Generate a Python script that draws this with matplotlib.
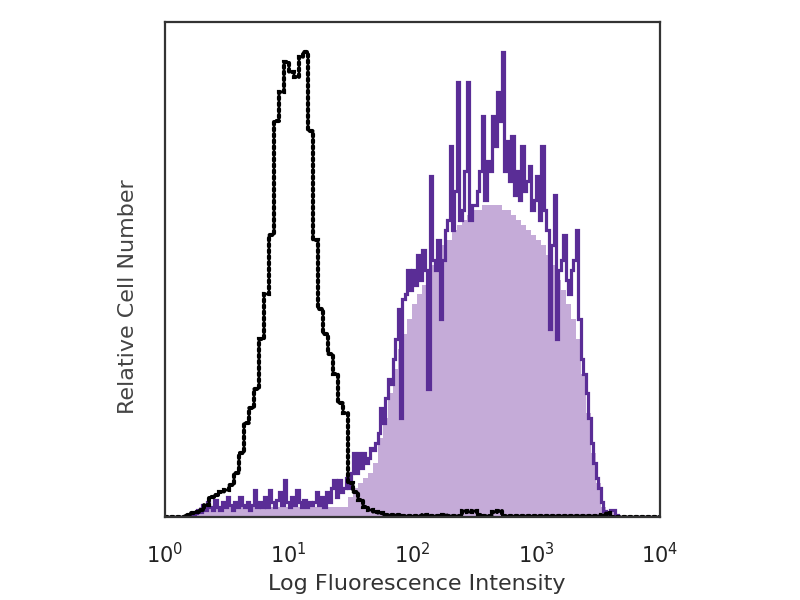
import numpy as np
import matplotlib
matplotlib.use('Agg')
import matplotlib.pyplot as plt

# isotype control (black dotted), 100 log bins 10^0..10^4, % of axis height
isotype = [0, 0, 0, 0, 0.5, 0.8, 1.0, 1.5, 2.5, 4,
           4.5, 5, 5.5, 6.5, 9, 13, 19, 22, 26, 36,
           45, 57, 80, 86, 92, 90, 89, 93, 94, 78,
           56, 42, 37, 33, 29, 23, 21, 7, 5, 3.5,
           2, 1.5, 1, 0.8, 0.5, 0.5, 0.4, 0.4, 0.3, 0.3,
           0.3, 0.3, 0.4, 0.3, 0.3, 0.3, 0.4, 0.3, 0.3, 0.3,
           1.2, 1.0, 1.3, 0.4, 0.3, 0.3, 1.0, 1.2, 0.3, 0.3,
           0.3, 0.3, 0.3, 0.3, 0.3, 0.3, 0.3, 0.3, 0.3, 0.3,
           0.3, 0.3, 0.3, 0.3, 0.3, 0.3, 0.3, 0.3, 0.5, 0.8,
           0, 0, 0, 0, 0, 0, 0, 0, 0, 0]

# stained sample, raw outline, 200 log bins
stained = [0, 0, 0, 0, 0, 0, 0, 0, 0, 0,
           0, 0.3, 0.8, 1.5, 1, 2.5, 1.5, 3, 2, 1.5,
           3.5, 2, 1.5, 3, 2, 4, 2.5, 1.5, 3, 2,
           4, 2.5, 2, 3, 1.5, 2.5, 5.5, 2, 3, 2,
           4, 2, 5.5, 3, 2, 3.5, 5, 2.5, 7.5, 3,
           2, 4, 2.5, 5.5, 3, 2, 3.5, 2, 3, 2.5,
           3, 5, 2.5, 4, 2, 5, 3, 6, 7.5, 4,
           7.5, 5, 6, 8, 6, 9, 13, 9, 13, 10,
           13, 11, 12, 14, 13.5, 15, 17, 22, 19, 24,
           28, 27, 32, 36, 42, 20, 44, 45, 50, 46,
           50, 47, 53, 48, 54, 50, 26, 69, 52, 50,
           56, 40, 52, 58, 60, 75, 58, 66, 88, 60,
           62, 70, 88, 60, 63, 63, 66, 70, 81, 64,
           72, 70, 81, 75, 86, 80, 94, 70, 76, 68,
           77, 65, 70, 64, 75, 66, 68, 71, 62, 64,
           69, 60, 75, 62, 58, 38, 55, 65, 36, 50,
           52, 57, 48, 45, 50, 52, 58, 40, 32, 29,
           25, 20, 15, 11, 8, 6, 3, 1.2, 0.5, 0.5,
           1.5, 1.5, 0.5, 0, 0, 0, 0, 0, 0, 0,
           0, 0, 0, 0, 0, 0, 0, 0, 0, 0]

# stained sample, filled body, 100 log bins
stained_fill = [0, 0, 0, 0, 0, 0, 1.5, 2, 2, 2,
                2, 2, 2, 2, 2, 2, 2, 2, 2, 2,
                2, 2, 2, 2, 2, 2, 2, 2, 2, 2,
                2, 2, 2, 2, 2, 2, 2, 4, 6, 7,
                8, 9, 11, 16, 20, 25, 30, 34, 37, 40,
                43, 45, 47, 49, 51, 53, 55, 56, 58, 59,
                60, 61, 62, 62, 63, 63, 63, 63, 62, 62,
                61, 60, 59, 58, 57, 56, 55, 53, 51, 48,
                46, 43, 40, 36, 29, 21, 13, 7, 2, 0.5,
                1, 0, 0, 0, 0, 0, 0, 0, 0, 0]

tick_vals = [1, 10, 100, 1000, 10000]
tick_labels = ['$10^0$', '$10^1$', '$10^2$', '$10^3$', '$10^4$']

edges_iso = np.logspace(0, 4, len(isotype) + 1)
edges_line = np.logspace(0, 4, len(stained) + 1)
edges_fill = np.logspace(0, 4, len(stained_fill) + 1)

fig = plt.figure(figsize=(8, 6), dpi=100)
ax = fig.add_axes([0.206, 0.138, 0.619, 0.825])

ax.stairs(stained_fill, edges_fill, fill=True, color='#c5abd8', lw=0)
ax.stairs(stained, edges_line, color='#5a2d96', lw=2.3)
ax.stairs(isotype, edges_iso, color='black', lw=3.0, linestyle=(0, (0.6, 0.85)),
          capstyle='round')

ax.set_xscale('log')
ax.set_xlim(1, 10000)
ax.set_ylim(0, 100)
ax.set_xticks(tick_vals)
ax.set_xticklabels(tick_labels, fontsize=15, color='#222222')
ax.minorticks_off()
ax.tick_params(axis='x', length=0, pad=18)
ax.set_yticks([])
for s in ax.spines.values():
    s.set_linewidth(1.6)
    s.set_color('#333333')

ax.set_xlabel('Log Fluorescence Intensity', fontsize=16, color='#333333')
ax.xaxis.set_label_coords(0.509, -0.115)
ax.set_ylabel('Relative Cell Number', fontsize=16, color='#444444')
ax.yaxis.set_label_coords(-0.055, 0.446)

fig.savefig('out.png', dpi=100)
